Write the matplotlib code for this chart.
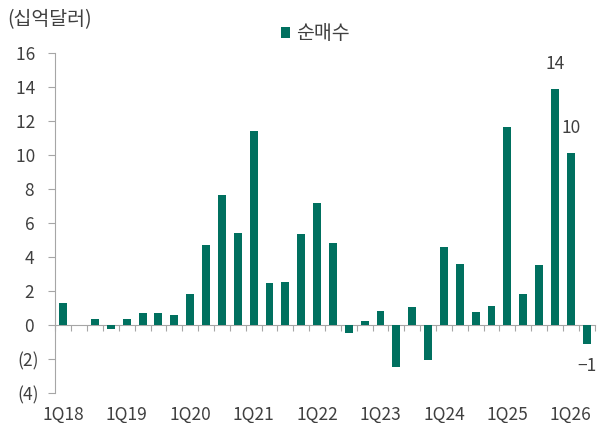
import matplotlib.pyplot as plt
import numpy as np

plt.rcParams['font.family'] = ['Noto Sans CJK KR', 'DejaVu Sans']

# quarterly net purchases, 1Q18 .. 2Q26 (bn USD)
quarters = [f"{q}Q{y}" for y in range(18, 27) for q in range(1, 5)][:34]
net_buy = [1.33, 0.0, 0.37, -0.2, 0.37, 0.7, 0.69, 0.62,
           1.84, 4.7, 7.66, 5.43, 11.41, 2.5, 2.52, 5.35,
           7.2, 4.82, -0.47, 0.23, 0.86, -2.43, 1.06, -2.06,
           4.57, 3.57, 0.76, 1.13, 11.65, 1.84, 3.53, 13.88,
           10.14, -1.12]
# value labels: (quarter, text, offset in points)
callouts = [("4Q25", "14", 18), ("1Q26", "10", 18), ("2Q26", "\u22121", -16)]

bar_color = "#00705F"
text_color = "#404040"
axis_color = "#A6A6A6"
fs = 12.5
fs_kr = 14

fig = plt.figure(figsize=(5.98, 4.23), dpi=100)
ax = fig.add_axes([0.0926, 0.0702, 0.9017, 0.8052])

x = np.arange(len(quarters))
bars = ax.bar(x, net_buy, width=0.5, color=bar_color, label="순매수", zorder=3)

ax.set_xlim(-0.5, len(quarters) - 0.5)
ax.set_ylim(-4, 16)

yt = np.arange(-4, 17, 2)
ax.set_yticks(yt)
ax.set_yticklabels([f"({-v})" if v < 0 else f"{v} " for v in yt],
                   fontsize=fs, color=text_color)
ax.tick_params(axis='y', length=5, color=axis_color, pad=7)

ax.set_xticks(x[::4])
ax.set_xticklabels(quarters[::4], fontsize=fs, color=text_color)
ax.tick_params(axis='x', length=0, pad=9)

for s in ['top', 'right', 'bottom']:
    ax.spines[s].set_visible(False)
ax.spines['left'].set_color(axis_color)

# zero line with category boundary ticks
zero_frac = (0 - ax.get_ylim()[0]) / (ax.get_ylim()[1] - ax.get_ylim()[0])
sec = ax.secondary_xaxis(zero_frac)
sec.set_xticks(np.arange(len(quarters) + 1) - 0.5)
sec.tick_params(length=4, color=axis_color, labelbottom=False)
sec.spines['bottom'].set_color(axis_color)

for q, txt, off in callouts:
    i = quarters.index(q)
    ax.annotate(txt, (x[i], net_buy[i]), xytext=(0, off), textcoords='offset points',
                ha='center', va='center', fontsize=fs, color=text_color)

fig.text(0.012, 0.953, "(십억달러)", fontsize=fs_kr, color=text_color, va='center')
fig.legend(handles=[bars], loc='center', bbox_to_anchor=(0.527, 0.92), frameon=False,
           fontsize=fs_kr, labelcolor=text_color, handlelength=0.45, handleheight=0.45,
           handletextpad=0.3)

fig.savefig("out.png", dpi=100)
